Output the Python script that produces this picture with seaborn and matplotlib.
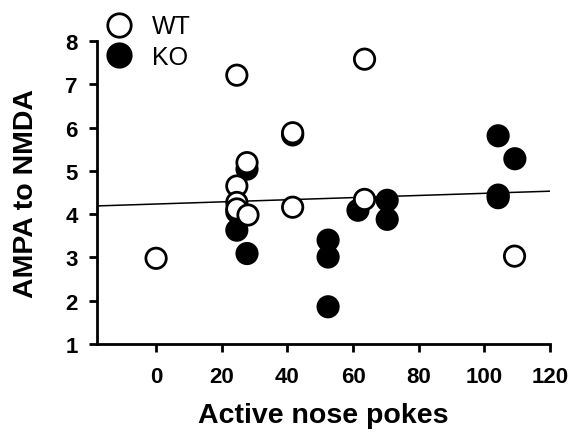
import pandas as pd
import matplotlib
matplotlib.use("Agg")
import matplotlib.pyplot as plt
import seaborn as sns

# --- Data ---
wt_pokes = [0, 24.6, 24.6, 24.6, 24.6, 27.7, 28.0, 41.6, 41.6, 63.5, 63.5, 109.2]
wt_ratio = [2.98, 7.21, 4.65, 4.27, 4.12, 5.19, 3.98, 5.88, 4.16, 7.58, 4.34, 3.03]

ko_pokes = [24.6, 24.6, 27.7, 27.7, 41.6, 52.4, 52.4, 52.4, 61.5, 70.4, 70.4,
            104.2, 109.3, 104.2, 104.2]
ko_ratio = [4.05, 3.63, 5.04, 3.09, 5.83, 3.40, 3.01, 1.86, 4.09, 4.32, 3.88,
            5.81, 5.28, 4.44, 4.38]

# fitted line as drawn in the figure (intercept, slope)
fit_intercept = 4.234
fit_slope = 0.00247

x_ticks = [0, 20, 40, 60, 80, 100, 120]
y_ticks = [1, 2, 3, 4, 5, 6, 7, 8]

# KO rows first so the open WT circles sit on top
df = pd.DataFrame({
    "pokes": ko_pokes + wt_pokes,
    "ratio": ko_ratio + wt_ratio,
    "group": ["KO"] * len(ko_pokes) + ["WT"] * len(wt_pokes),
})

sns.set_theme(style="ticks")
plt.rcParams["font.family"] = ["Liberation Sans", "DejaVu Sans"]
plt.rcParams.update({"text.color": "black", "axes.labelcolor": "black",
                     "xtick.color": "black", "ytick.color": "black"})

fig = plt.figure(figsize=(5.74, 4.39), dpi=100)
ax = fig.add_axes([97 / 574, 1 - 345 / 439, 453 / 574, 303 / 439])
ax.set_xlim(-18, 120)
ax.set_ylim(1, 8)

ax.axline((0, fit_intercept), slope=fit_slope, color="black", lw=1.1, zorder=2)

sns.scatterplot(data=df, x="pokes", y="ratio", hue="group", hue_order=["WT", "KO"],
                palette={"WT": "white", "KO": "black"}, edgecolor="black",
                linewidth=2, s=215, ax=ax, zorder=3, clip_on=False)

ax.set_xlim(-18, 120)
ax.set_ylim(1, 8)
ax.set_xticks(x_ticks)
ax.set_yticks(y_ticks)
ax.tick_params(direction="out", length=6, width=2, labelsize=16)
ax.tick_params(axis="x", pad=10)
ax.tick_params(axis="y", pad=8)
for lab in ax.get_xticklabels() + ax.get_yticklabels():
    lab.set_fontweight("bold")
for side in ["top", "right"]:
    ax.spines[side].set_visible(False)
for side in ["left", "bottom"]:
    ax.spines[side].set_linewidth(2)
    ax.spines[side].set_color("black")

ax.set_xlabel("Active nose pokes", fontsize=20.5, fontweight="bold", labelpad=11)
ax.set_ylabel("AMPA to NMDA", fontsize=20.5, fontweight="bold", labelpad=19)

handles, labels = ax.get_legend_handles_labels()
ax.get_legend().remove()
fig.legend(handles, labels, loc="upper left", bbox_to_anchor=(76 / 574, 1.005),
           frameon=False, fontsize=18, markerscale=1.15, handletextpad=0.35,
           labelspacing=0.25, borderpad=0.2)

fig.savefig("out.png", dpi=100)
